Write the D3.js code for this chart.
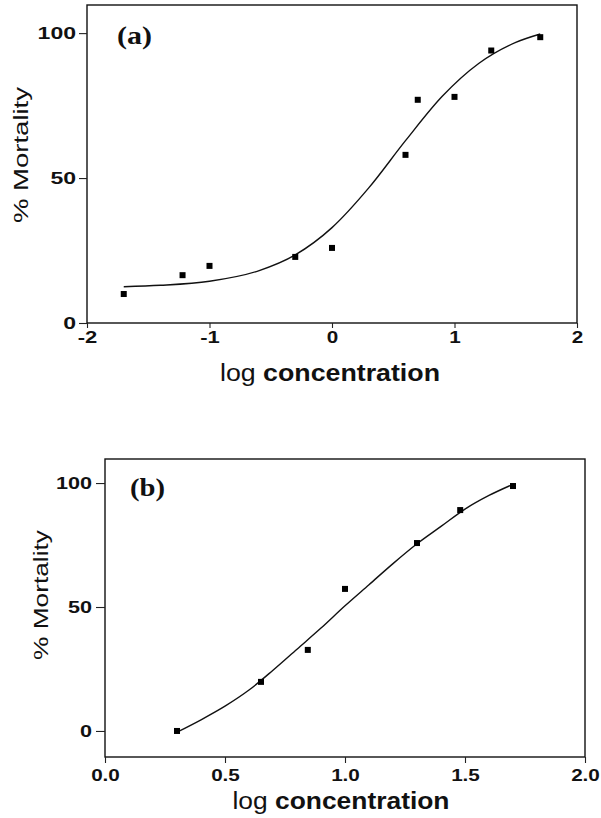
<!DOCTYPE html>
<html>
<head>
<meta charset="utf-8">
<script src="https://cdn.jsdelivr.net/npm/d3@7"></script>
<style>
  body { margin: 0; background: #fff; }
  svg { display: block; }
</style>
</head>
<body>
<div id="chart-area"></div>
<script>
// panel (a)
var aLogConc   = [-1.70, -1.22, -1.00, -0.30, 0.00, 0.60, 0.70, 1.00, 1.30, 1.70];
var aMortality = [10.0, 16.5, 19.7, 22.8, 25.9, 58.0, 77.0, 78.0, 94.0, 98.6];
var aFitX = [-1.7, -1.4, -1.0, -0.6, -0.3, 0.0, 0.3, 0.6, 0.9, 1.2, 1.5, 1.7];
var aFitY = [12.5, 13.0, 14.4, 18.0, 23.5, 32.9, 46.6, 62.9, 78.2, 89.6, 96.8, 99.7];
var aXTicks = [-2, -1, 0, 1, 2];
var aYTicks = [0, 50, 100];

// panel (b)
var bLogConc   = [0.30, 0.65, 0.845, 1.00, 1.30, 1.48, 1.70];
var bMortality = [0.0, 19.8, 32.7, 57.3, 75.8, 89.1, 98.8];
var bFitX = [0.30, 0.40, 0.50, 0.60, 0.70, 0.80, 0.90, 1.00, 1.10, 1.20, 1.30, 1.40, 1.50, 1.60, 1.70];
var bFitY = [-0.5, 4.5, 10.0, 16.5, 24.5, 33.0, 41.5, 50.5, 59.0, 67.5, 75.5, 82.5, 89.5, 95.0, 99.5];
var bXTicks = [0.0, 0.5, 1.0, 1.5, 2.0];
var bYTicks = [0, 50, 100];

var svg = d3.select("#chart-area")
	.append("svg")
		.attr("width", 601)
		.attr("height", 818);

var sans = "'Liberation Sans', Arial, Helvetica, sans-serif";

// rough widths so the stretched look of the scan comes back
function labelWidth(s, digit) {
	var w = 0;
	for (var i = 0; i < s.length; i++) {
		if (s[i] == ".") w += digit * 0.5;
		else if (s[i] == "-" || s[i] == "\u2212") w += digit * 0.7;
		else w += digit;
	}
	return w;
}

function drawPanel(p) {
	var x = d3.scaleLinear().domain(p.xDomain).range([p.left, p.right]);
	var y = d3.scaleLinear().domain(p.yDomain).range([p.bottom, p.top]);

	var g = svg.append("g");

	// frame
	g.append("rect")
		.attr("x", p.left)
		.attr("y", p.top)
		.attr("width", p.right - p.left)
		.attr("height", p.bottom - p.top)
		.attr("fill", "none")
		.attr("stroke", "#111")
		.attr("stroke-width", 1.4);

	var xAxisCall = d3.axisBottom(x)
		.tickValues(p.xTicks)
		.tickSize(p.xTickSize)
		.tickPadding(p.xTickPad)
		.tickFormat(p.xFormat);
	var xa = g.append("g")
		.attr("transform", "translate(0," + p.bottom + ")")
		.call(xAxisCall);

	var yAxisCall = d3.axisLeft(y)
		.tickValues(p.yTicks)
		.tickSize(p.yTickSize)
		.tickPadding(p.yTickPad)
		.tickFormat(d3.format("d"));
	var ya = g.append("g")
		.attr("transform", "translate(" + p.left + ",0)")
		.call(yAxisCall);

	[xa, ya].forEach(function(a) {
		a.select(".domain").remove();
		a.selectAll("line").attr("stroke", "#222").attr("stroke-width", 1.1);
		a.selectAll("text")
			.attr("font-family", sans)
			.attr("font-size", "16px")
			.attr("font-weight", "bold")
			.attr("fill", "#111");
	});
	xa.selectAll("text")
		.attr("textLength", function(d) { return labelWidth(p.xFormat(d), p.xDigit); })
		.attr("lengthAdjust", "spacingAndGlyphs");
	ya.selectAll("text")
		.attr("textLength", function(d) { return labelWidth(String(d), p.yDigit); })
		.attr("lengthAdjust", "spacingAndGlyphs");

	// fitted curve
	var fit = p.fitX.map(function(v, i) { return [v, p.fitY[i]]; });
	var line = d3.line()
		.x(function(d) { return x(d[0]); })
		.y(function(d) { return y(d[1]); })
		.curve(d3.curveMonotoneX);
	g.append("path")
		.datum(fit)
		.attr("d", line)
		.attr("fill", "none")
		.attr("stroke", "#111")
		.attr("stroke-width", 1.4);

	// data points
	var pts = p.px.map(function(v, i) { return [v, p.py[i]]; });
	g.selectAll("rect.pt")
		.data(pts)
		.enter()
		.append("rect")
			.attr("class", "pt")
			.attr("x", function(d) { return x(d[0]) - 3; })
			.attr("y", function(d) { return y(d[1]) - 3; })
			.attr("width", 6)
			.attr("height", 6)
			.attr("fill", "#000");

	// panel tag
	g.append("text")
		.attr("x", p.tagX)
		.attr("y", p.tagY)
		.attr("font-family", "'Liberation Serif', 'Times New Roman', serif")
		.attr("font-weight", "bold")
		.attr("font-size", "25px")
		.attr("textLength", 35)
		.attr("lengthAdjust", "spacingAndGlyphs")
		.attr("fill", "#111")
		.text(p.tag);

	// axis titles
	var xt = g.append("text")
		.attr("x", p.xTitleX)
		.attr("y", p.xTitleY)
		.attr("text-anchor", "middle")
		.attr("font-family", sans)
		.attr("font-size", "23px")
		.attr("fill", "#111")
		.attr("textLength", p.xTitleLen)
		.attr("lengthAdjust", "spacingAndGlyphs");
	xt.append("tspan").text("log ");
	xt.append("tspan").attr("font-weight", "bold").text("concentration");

	g.append("text")
		.attr("transform", "translate(" + p.yTitleX + "," + p.yTitleY + ") rotate(-90)")
		.attr("text-anchor", "middle")
		.attr("font-family", sans)
		.attr("font-size", "21px")
		.attr("fill", "#111")
		.attr("textLength", p.yTitleLen)
		.attr("lengthAdjust", "spacingAndGlyphs")
		.text("% Mortality");
}

drawPanel({
	left: 87, right: 577, top: 5, bottom: 323,
	xDomain: [-2, 2], yDomain: [0, 109.7],
	xTicks: aXTicks, yTicks: aYTicks,
	xFormat: function(d) { return d3.format("d")(d).replace("\u2212", "-"); },
	xTickSize: 5, xTickPad: 4, xDigit: 11.5,
	yTickSize: 8, yTickPad: 3, yDigit: 12.8,
	px: aLogConc, py: aMortality, fitX: aFitX, fitY: aFitY,
	tag: "(a)", tagX: 117, tagY: 44,
	xTitleX: 330, xTitleY: 381, xTitleLen: 220,
	yTitleX: 28, yTitleY: 155, yTitleLen: 136
});

drawPanel({
	left: 105, right: 585, top: 459, bottom: 757,
	xDomain: [0, 2], yDomain: [-10.5, 109.7],
	xTicks: bXTicks, yTicks: bYTicks,
	xFormat: d3.format(".1f"),
	xTickSize: 6, xTickPad: 7, xDigit: 11.5,
	yTickSize: 9, yTickPad: 4, yDigit: 12,
	px: bLogConc, py: bMortality, fitX: bFitX, fitY: bFitY,
	tag: "(b)", tagX: 130, tagY: 496,
	xTitleX: 341, xTitleY: 809, xTitleLen: 217,
	yTitleX: 48, yTitleY: 595, yTitleLen: 130
});
</script>
</body>
</html>
